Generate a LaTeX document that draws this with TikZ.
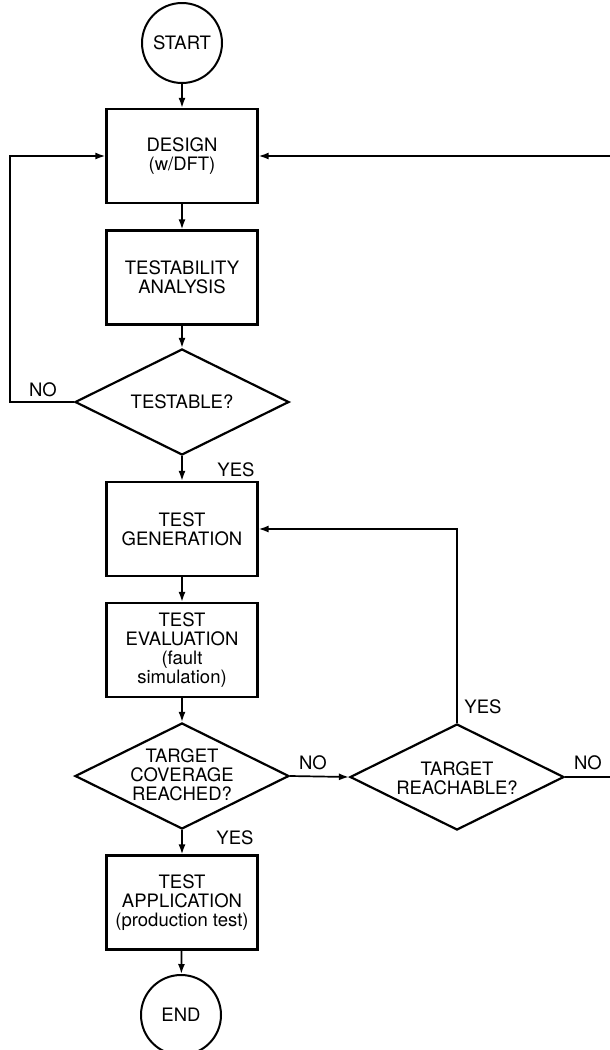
\documentclass[tikz,border=0pt]{standalone}
\usepackage{fontspec}
\setmainfont{TeX Gyre Heros}
\usetikzlibrary{shapes.geometric,arrows.meta}
\begin{document}
\begin{tikzpicture}[x=1pt,y=-1pt,
  font=\fontsize{18.5}{19}\selectfont,
  box/.style={draw, rectangle, line width=2.2pt, minimum width=151pt, minimum height=94pt, inner sep=0pt, align=center},
  term/.style={draw, circle, line width=2pt, minimum size=80pt, inner sep=0pt},
  dec/.style={draw, diamond, line width=2.2pt, minimum width=214pt, minimum height=106pt, inner sep=0pt},
  dectext/.style={align=center, inner sep=0pt},
  conn/.style={line width=1.7pt, -{Latex[length=10pt,width=7pt]}},
  plain/.style={line width=1.7pt},
  lab/.style={inner sep=0pt}]
\useasboundingbox (0,0) rectangle (610,1050);
% nodes
\node[term] (start) at (182,43) {START};
\node[box] (design) at (182,156) {DESIGN\\(w/DFT)};
\node[box] (testab) at (182,277.5) {TESTABILITY\\ANALYSIS};
\node[dec] (testable) at (182,402) {};
\node[dectext] (testableT) at (182,402) {TESTABLE?};
\node[box] (testgen) at (182,529) {TEST\\GENERATION};
\node[box] (testeval) at (182,650) {TEST\\EVALUATION\\(fault\\simulation)};
\node[dec] (coverage) at (182,776) {};
\node[dectext] (coverageT) at (182,775) {TARGET\\COVERAGE\\REACHED?};
\node[dec] (reach) at (457,777) {};
\node[dectext] (reachT) at (457,778) {TARGET\\REACHABLE?};
\node[box] (testapp) at (182,902.5) {TEST\\APPLICATION\\(production test)};
\node[term] (end) at (181,1015) {END};
% helper coordinates
\coordinate (lc) at (10,402);
\coordinate (rc) at (630,777);
% connectors
\draw[conn] (start) -- (design);
\draw[conn] (design) -- (testab);
\draw[conn] (testab) -- (testable);
\draw[conn] (testable) -- (testgen);
\draw[conn] (testgen) -- (testeval);
\draw[conn] (testeval) -- (coverage);
\draw[conn] (coverage) -- (testapp);
\draw[conn] (testapp) -- (end);
\draw[conn] (coverage.east) -- (reach.west);
\draw[conn] (testable.west) -- (lc) |- (design.west);
\draw[conn] (reach.north) |- (testgen.east);
\draw[conn] (reach.east) -- (rc) |- (design.east);
% labels
\node[lab] (no1) at (43,390) {NO};
\node[lab] (yes1) at (236,470) {YES};
\node[lab] (no2) at (313,763) {NO};
\node[lab] (yes2) at (235,838) {YES};
\node[lab] (yes3) at (483,707) {YES};
\node[lab] (no3) at (588,763) {NO};
\end{tikzpicture}
\end{document}
